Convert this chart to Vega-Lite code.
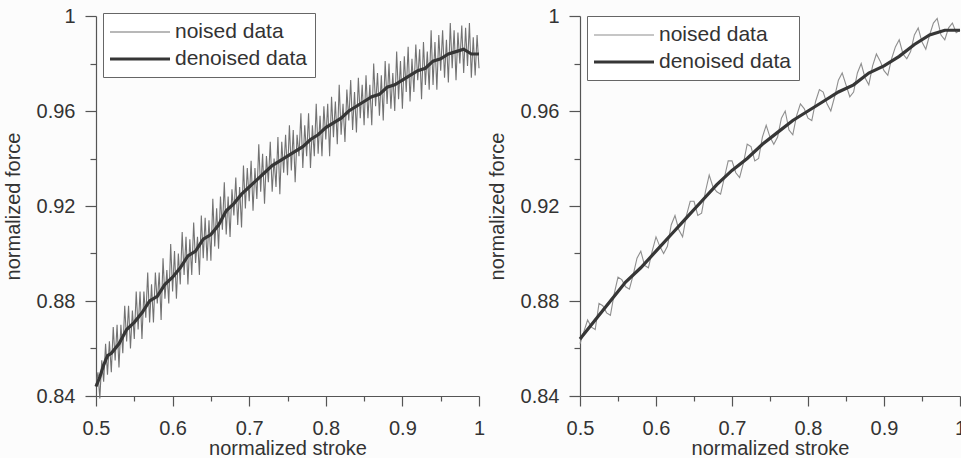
{
  "$schema": "https://vega.github.io/schema/vega-lite/v6.json",
  "padding": {"left": 3, "top": 6, "right": 0, "bottom": 0},
  "background": "#fcfcfc",
  "bounds": "flush",
  "spacing": 101,
  "datasets": {
    "L": [
      {"s":"noised data","x":0.5,"y":0.844},{"s":"noised data","x":0.5025,"y":0.850},{"s":"noised data","x":0.505,"y":0.839},{"s":"noised data","x":0.5075,"y":0.855},{"s":"noised data","x":0.51,"y":0.846},{"s":"noised data","x":0.5125,"y":0.862},{"s":"noised data","x":0.515,"y":0.849},{"s":"noised data","x":0.5175,"y":0.863},{"s":"noised data","x":0.52,"y":0.850},
      {"s":"noised data","x":0.5225,"y":0.869},{"s":"noised data","x":0.525,"y":0.855},{"s":"noised data","x":0.5275,"y":0.870},{"s":"noised data","x":0.53,"y":0.852},{"s":"noised data","x":0.5325,"y":0.870},{"s":"noised data","x":0.535,"y":0.858},{"s":"noised data","x":0.5375,"y":0.878},{"s":"noised data","x":0.54,"y":0.863},{"s":"noised data","x":0.5425,"y":0.878},{"s":"noised data","x":0.545,"y":0.860},{"s":"noised data","x":0.5475,"y":0.876},{"s":"noised data","x":0.55,"y":0.864},
      {"s":"noised data","x":0.5525,"y":0.884},{"s":"noised data","x":0.555,"y":0.868},{"s":"noised data","x":0.5575,"y":0.884},{"s":"noised data","x":0.56,"y":0.864},{"s":"noised data","x":0.5625,"y":0.884},{"s":"noised data","x":0.565,"y":0.873},{"s":"noised data","x":0.5675,"y":0.892},{"s":"noised data","x":0.57,"y":0.871},{"s":"noised data","x":0.5725,"y":0.887},{"s":"noised data","x":0.575,"y":0.871},{"s":"noised data","x":0.5775,"y":0.892},{"s":"noised data","x":0.58,"y":0.879},{"s":"noised data","x":0.5825,"y":0.892},{"s":"noised data","x":0.585,"y":0.872},{"s":"noised data","x":0.5875,"y":0.898},{"s":"noised data","x":0.59,"y":0.881},{"s":"noised data","x":0.5925,"y":0.893},{"s":"noised data","x":0.595,"y":0.879},{"s":"noised data","x":0.5975,"y":0.904},{"s":"noised data","x":0.6,"y":0.884},
      {"s":"noised data","x":0.6025,"y":0.901},{"s":"noised data","x":0.605,"y":0.881},{"s":"noised data","x":0.6075,"y":0.900},{"s":"noised data","x":0.61,"y":0.887},{"s":"noised data","x":0.6125,"y":0.909},{"s":"noised data","x":0.615,"y":0.891},{"s":"noised data","x":0.6175,"y":0.907},{"s":"noised data","x":0.62,"y":0.887},{"s":"noised data","x":0.6225,"y":0.906},{"s":"noised data","x":0.625,"y":0.891},{"s":"noised data","x":0.6275,"y":0.913},{"s":"noised data","x":0.63,"y":0.896},{"s":"noised data","x":0.6325,"y":0.907},{"s":"noised data","x":0.635,"y":0.891},{"s":"noised data","x":0.6375,"y":0.916},{"s":"noised data","x":0.64,"y":0.898},{"s":"noised data","x":0.6425,"y":0.915},{"s":"noised data","x":0.645,"y":0.897},{"s":"noised data","x":0.6475,"y":0.914},{"s":"noised data","x":0.65,"y":0.897},
      {"s":"noised data","x":0.6525,"y":0.923},{"s":"noised data","x":0.655,"y":0.903},{"s":"noised data","x":0.6575,"y":0.919},{"s":"noised data","x":0.66,"y":0.902},{"s":"noised data","x":0.6625,"y":0.924},{"s":"noised data","x":0.665,"y":0.910},{"s":"noised data","x":0.6675,"y":0.930},{"s":"noised data","x":0.67,"y":0.908},{"s":"noised data","x":0.6725,"y":0.924},{"s":"noised data","x":0.675,"y":0.907},{"s":"noised data","x":0.6775,"y":0.927},{"s":"noised data","x":0.68,"y":0.916},{"s":"noised data","x":0.6825,"y":0.932},{"s":"noised data","x":0.685,"y":0.912},{"s":"noised data","x":0.6875,"y":0.928},{"s":"noised data","x":0.69,"y":0.911},{"s":"noised data","x":0.6925,"y":0.937},{"s":"noised data","x":0.695,"y":0.919},{"s":"noised data","x":0.6975,"y":0.936},{"s":"noised data","x":0.7,"y":0.922},
      {"s":"noised data","x":0.7025,"y":0.939},{"s":"noised data","x":0.705,"y":0.918},{"s":"noised data","x":0.7075,"y":0.936},{"s":"noised data","x":0.71,"y":0.923},{"s":"noised data","x":0.7125,"y":0.946},{"s":"noised data","x":0.715,"y":0.926},{"s":"noised data","x":0.7175,"y":0.942},{"s":"noised data","x":0.72,"y":0.921},{"s":"noised data","x":0.7225,"y":0.941},{"s":"noised data","x":0.725,"y":0.930},{"s":"noised data","x":0.7275,"y":0.947},{"s":"noised data","x":0.73,"y":0.926},{"s":"noised data","x":0.7325,"y":0.940},{"s":"noised data","x":0.735,"y":0.928},{"s":"noised data","x":0.7375,"y":0.949},{"s":"noised data","x":0.74,"y":0.925},{"s":"noised data","x":0.7425,"y":0.947},{"s":"noised data","x":0.745,"y":0.934},{"s":"noised data","x":0.7475,"y":0.950},{"s":"noised data","x":0.75,"y":0.933},
      {"s":"noised data","x":0.7525,"y":0.954},{"s":"noised data","x":0.755,"y":0.935},{"s":"noised data","x":0.7575,"y":0.952},{"s":"noised data","x":0.76,"y":0.930},{"s":"noised data","x":0.7625,"y":0.950},{"s":"noised data","x":0.765,"y":0.941},{"s":"noised data","x":0.7675,"y":0.959},{"s":"noised data","x":0.77,"y":0.936},{"s":"noised data","x":0.7725,"y":0.954},{"s":"noised data","x":0.775,"y":0.941},{"s":"noised data","x":0.7775,"y":0.959},{"s":"noised data","x":0.78,"y":0.936},{"s":"noised data","x":0.7825,"y":0.954},{"s":"noised data","x":0.785,"y":0.941},{"s":"noised data","x":0.7875,"y":0.963},{"s":"noised data","x":0.79,"y":0.942},{"s":"noised data","x":0.7925,"y":0.958},{"s":"noised data","x":0.795,"y":0.941},{"s":"noised data","x":0.7975,"y":0.962},{"s":"noised data","x":0.8,"y":0.948},
      {"s":"noised data","x":0.8025,"y":0.963},{"s":"noised data","x":0.805,"y":0.941},{"s":"noised data","x":0.8075,"y":0.966},{"s":"noised data","x":0.81,"y":0.949},{"s":"noised data","x":0.8125,"y":0.964},{"s":"noised data","x":0.815,"y":0.946},{"s":"noised data","x":0.8175,"y":0.971},{"s":"noised data","x":0.82,"y":0.950},{"s":"noised data","x":0.8225,"y":0.963},{"s":"noised data","x":0.825,"y":0.947},{"s":"noised data","x":0.8275,"y":0.969},{"s":"noised data","x":0.83,"y":0.956},{"s":"noised data","x":0.8325,"y":0.973},{"s":"noised data","x":0.835,"y":0.952},{"s":"noised data","x":0.8375,"y":0.968},{"s":"noised data","x":0.84,"y":0.951},{"s":"noised data","x":0.8425,"y":0.974},{"s":"noised data","x":0.845,"y":0.957},{"s":"noised data","x":0.8475,"y":0.971},{"s":"noised data","x":0.85,"y":0.954},
      {"s":"noised data","x":0.8525,"y":0.975},{"s":"noised data","x":0.855,"y":0.957},{"s":"noised data","x":0.8575,"y":0.971},{"s":"noised data","x":0.86,"y":0.954},{"s":"noised data","x":0.8625,"y":0.980},{"s":"noised data","x":0.865,"y":0.962},{"s":"noised data","x":0.8675,"y":0.976},{"s":"noised data","x":0.87,"y":0.958},{"s":"noised data","x":0.8725,"y":0.975},{"s":"noised data","x":0.875,"y":0.956},{"s":"noised data","x":0.8775,"y":0.981},{"s":"noised data","x":0.88,"y":0.963},{"s":"noised data","x":0.8825,"y":0.980},{"s":"noised data","x":0.885,"y":0.961},{"s":"noised data","x":0.8875,"y":0.976},{"s":"noised data","x":0.89,"y":0.960},{"s":"noised data","x":0.8925,"y":0.985},{"s":"noised data","x":0.895,"y":0.965},{"s":"noised data","x":0.8975,"y":0.981},{"s":"noised data","x":0.9,"y":0.961},
      {"s":"noised data","x":0.9025,"y":0.983},{"s":"noised data","x":0.905,"y":0.968},{"s":"noised data","x":0.9075,"y":0.987},{"s":"noised data","x":0.91,"y":0.964},{"s":"noised data","x":0.9125,"y":0.982},{"s":"noised data","x":0.915,"y":0.968},{"s":"noised data","x":0.9175,"y":0.988},{"s":"noised data","x":0.92,"y":0.973},{"s":"noised data","x":0.9225,"y":0.986},{"s":"noised data","x":0.925,"y":0.965},{"s":"noised data","x":0.9275,"y":0.989},{"s":"noised data","x":0.93,"y":0.971},{"s":"noised data","x":0.9325,"y":0.985},{"s":"noised data","x":0.935,"y":0.969},{"s":"noised data","x":0.9375,"y":0.994},{"s":"noised data","x":0.94,"y":0.971},{"s":"noised data","x":0.9425,"y":0.989},{"s":"noised data","x":0.945,"y":0.969},{"s":"noised data","x":0.9475,"y":0.992},{"s":"noised data","x":0.95,"y":0.977},
      {"s":"noised data","x":0.9525,"y":0.994},{"s":"noised data","x":0.955,"y":0.974},{"s":"noised data","x":0.9575,"y":0.990},{"s":"noised data","x":0.96,"y":0.972},{"s":"noised data","x":0.9625,"y":0.997},{"s":"noised data","x":0.965,"y":0.978},{"s":"noised data","x":0.9675,"y":0.994},{"s":"noised data","x":0.97,"y":0.973},{"s":"noised data","x":0.9725,"y":0.993},{"s":"noised data","x":0.975,"y":0.980},{"s":"noised data","x":0.9775,"y":0.996},{"s":"noised data","x":0.98,"y":0.976},{"s":"noised data","x":0.9825,"y":0.995},{"s":"noised data","x":0.985,"y":0.979},{"s":"noised data","x":0.9875,"y":0.997},{"s":"noised data","x":0.99,"y":0.974},{"s":"noised data","x":0.9925,"y":0.991},{"s":"noised data","x":0.995,"y":0.975},{"s":"noised data","x":0.9975,"y":0.992},{"s":"noised data","x":1.0,"y":0.978},
      {"s":"denoised data","x":0.5,"y":0.844},{"s":"denoised data","x":0.505,"y":0.848},{"s":"denoised data","x":0.51,"y":0.853},{"s":"denoised data","x":0.515,"y":0.857},{"s":"denoised data","x":0.52,"y":0.858},{"s":"denoised data","x":0.53,"y":0.862},{"s":"denoised data","x":0.54,"y":0.868},{"s":"denoised data","x":0.55,"y":0.871},{"s":"denoised data","x":0.56,"y":0.875},{"s":"denoised data","x":0.57,"y":0.880},{"s":"denoised data","x":0.58,"y":0.882},{"s":"denoised data","x":0.59,"y":0.887},{"s":"denoised data","x":0.6,"y":0.890},{"s":"denoised data","x":0.61,"y":0.894},{"s":"denoised data","x":0.62,"y":0.899},{"s":"denoised data","x":0.63,"y":0.901},{"s":"denoised data","x":0.64,"y":0.906},{"s":"denoised data","x":0.65,"y":0.908},{"s":"denoised data","x":0.66,"y":0.912},{"s":"denoised data","x":0.67,"y":0.918},{"s":"denoised data","x":0.68,"y":0.921},{"s":"denoised data","x":0.69,"y":0.925},{"s":"denoised data","x":0.7,"y":0.928},{"s":"denoised data","x":0.71,"y":0.931},{"s":"denoised data","x":0.72,"y":0.934},{"s":"denoised data","x":0.73,"y":0.937},{"s":"denoised data","x":0.74,"y":0.939},{"s":"denoised data","x":0.75,"y":0.941},{"s":"denoised data","x":0.76,"y":0.943},{"s":"denoised data","x":0.77,"y":0.945},{"s":"denoised data","x":0.78,"y":0.948},{"s":"denoised data","x":0.79,"y":0.950},{"s":"denoised data","x":0.8,"y":0.953},{"s":"denoised data","x":0.81,"y":0.955},{"s":"denoised data","x":0.82,"y":0.957},{"s":"denoised data","x":0.83,"y":0.960},{"s":"denoised data","x":0.84,"y":0.962},{"s":"denoised data","x":0.85,"y":0.964},{"s":"denoised data","x":0.86,"y":0.966},{"s":"denoised data","x":0.87,"y":0.967},{"s":"denoised data","x":0.88,"y":0.970},{"s":"denoised data","x":0.89,"y":0.971},{"s":"denoised data","x":0.9,"y":0.973},{"s":"denoised data","x":0.91,"y":0.975},{"s":"denoised data","x":0.92,"y":0.977},{"s":"denoised data","x":0.93,"y":0.978},{"s":"denoised data","x":0.94,"y":0.981},{"s":"denoised data","x":0.95,"y":0.982},{"s":"denoised data","x":0.96,"y":0.984},{"s":"denoised data","x":0.97,"y":0.985},{"s":"denoised data","x":0.98,"y":0.986},{"s":"denoised data","x":0.99,"y":0.984},{"s":"denoised data","x":1.0,"y":0.984}
    ],
    "R": [
      {"s":"noised data","x":0.5,"y":0.862},{"s":"noised data","x":0.505,"y":0.867},{"s":"noised data","x":0.51,"y":0.872},{"s":"noised data","x":0.515,"y":0.869},{"s":"noised data","x":0.52,"y":0.868},{"s":"noised data","x":0.525,"y":0.879},{"s":"noised data","x":0.53,"y":0.878},{"s":"noised data","x":0.535,"y":0.875},{"s":"noised data","x":0.54,"y":0.874},{"s":"noised data","x":0.545,"y":0.883},{"s":"noised data","x":0.55,"y":0.890},{"s":"noised data","x":0.555,"y":0.889},{"s":"noised data","x":0.56,"y":0.886},{"s":"noised data","x":0.565,"y":0.885},{"s":"noised data","x":0.57,"y":0.891},{"s":"noised data","x":0.575,"y":0.898},{"s":"noised data","x":0.58,"y":0.901},{"s":"noised data","x":0.585,"y":0.895},{"s":"noised data","x":0.59,"y":0.894},{"s":"noised data","x":0.595,"y":0.901},
      {"s":"noised data","x":0.6,"y":0.907},{"s":"noised data","x":0.605,"y":0.903},{"s":"noised data","x":0.61,"y":0.900},{"s":"noised data","x":0.615,"y":0.903},{"s":"noised data","x":0.62,"y":0.912},{"s":"noised data","x":0.625,"y":0.916},{"s":"noised data","x":0.63,"y":0.910},{"s":"noised data","x":0.635,"y":0.907},{"s":"noised data","x":0.64,"y":0.916},{"s":"noised data","x":0.645,"y":0.922},{"s":"noised data","x":0.65,"y":0.922},{"s":"noised data","x":0.655,"y":0.916},{"s":"noised data","x":0.66,"y":0.917},{"s":"noised data","x":0.665,"y":0.926},{"s":"noised data","x":0.67,"y":0.933},{"s":"noised data","x":0.675,"y":0.928},{"s":"noised data","x":0.68,"y":0.926},{"s":"noised data","x":0.685,"y":0.925},{"s":"noised data","x":0.69,"y":0.932},{"s":"noised data","x":0.695,"y":0.939},
      {"s":"noised data","x":0.7,"y":0.939},{"s":"noised data","x":0.705,"y":0.934},{"s":"noised data","x":0.71,"y":0.932},{"s":"noised data","x":0.715,"y":0.938},{"s":"noised data","x":0.72,"y":0.946},{"s":"noised data","x":0.725,"y":0.945},{"s":"noised data","x":0.73,"y":0.939},{"s":"noised data","x":0.735,"y":0.940},{"s":"noised data","x":0.74,"y":0.949},{"s":"noised data","x":0.745,"y":0.954},{"s":"noised data","x":0.75,"y":0.949},{"s":"noised data","x":0.755,"y":0.946},{"s":"noised data","x":0.76,"y":0.949},{"s":"noised data","x":0.765,"y":0.957},{"s":"noised data","x":0.77,"y":0.960},{"s":"noised data","x":0.775,"y":0.952},{"s":"noised data","x":0.78,"y":0.950},{"s":"noised data","x":0.785,"y":0.958},{"s":"noised data","x":0.79,"y":0.963},{"s":"noised data","x":0.795,"y":0.961},
      {"s":"noised data","x":0.8,"y":0.957},{"s":"noised data","x":0.805,"y":0.956},{"s":"noised data","x":0.81,"y":0.964},{"s":"noised data","x":0.815,"y":0.969},{"s":"noised data","x":0.82,"y":0.968},{"s":"noised data","x":0.825,"y":0.963},{"s":"noised data","x":0.83,"y":0.960},{"s":"noised data","x":0.835,"y":0.966},{"s":"noised data","x":0.84,"y":0.973},{"s":"noised data","x":0.845,"y":0.976},{"s":"noised data","x":0.85,"y":0.971},{"s":"noised data","x":0.855,"y":0.966},{"s":"noised data","x":0.86,"y":0.968},{"s":"noised data","x":0.865,"y":0.976},{"s":"noised data","x":0.87,"y":0.980},{"s":"noised data","x":0.875,"y":0.974},{"s":"noised data","x":0.88,"y":0.971},{"s":"noised data","x":0.885,"y":0.979},{"s":"noised data","x":0.89,"y":0.984},{"s":"noised data","x":0.895,"y":0.981},
      {"s":"noised data","x":0.9,"y":0.977},{"s":"noised data","x":0.905,"y":0.975},{"s":"noised data","x":0.91,"y":0.982},{"s":"noised data","x":0.915,"y":0.987},{"s":"noised data","x":0.92,"y":0.990},{"s":"noised data","x":0.925,"y":0.984},{"s":"noised data","x":0.93,"y":0.982},{"s":"noised data","x":0.935,"y":0.985},{"s":"noised data","x":0.94,"y":0.992},{"s":"noised data","x":0.945,"y":0.995},{"s":"noised data","x":0.95,"y":0.989},{"s":"noised data","x":0.955,"y":0.986},{"s":"noised data","x":0.96,"y":0.992},{"s":"noised data","x":0.965,"y":0.997},{"s":"noised data","x":0.97,"y":0.999},{"s":"noised data","x":0.975,"y":0.992},{"s":"noised data","x":0.98,"y":0.990},{"s":"noised data","x":0.985,"y":0.995},{"s":"noised data","x":0.99,"y":0.997},{"s":"noised data","x":0.995,"y":0.993},{"s":"noised data","x":1.0,"y":0.994},
      {"s":"denoised data","x":0.5,"y":0.864},{"s":"denoised data","x":0.52,"y":0.872},{"s":"denoised data","x":0.54,"y":0.880},{"s":"denoised data","x":0.56,"y":0.888},{"s":"denoised data","x":0.58,"y":0.894},{"s":"denoised data","x":0.6,"y":0.901},{"s":"denoised data","x":0.62,"y":0.908},{"s":"denoised data","x":0.64,"y":0.915},{"s":"denoised data","x":0.66,"y":0.922},{"s":"denoised data","x":0.68,"y":0.929},{"s":"denoised data","x":0.7,"y":0.935},{"s":"denoised data","x":0.72,"y":0.940},{"s":"denoised data","x":0.74,"y":0.946},{"s":"denoised data","x":0.76,"y":0.951},{"s":"denoised data","x":0.78,"y":0.956},{"s":"denoised data","x":0.8,"y":0.960},{"s":"denoised data","x":0.82,"y":0.964},{"s":"denoised data","x":0.84,"y":0.968},{"s":"denoised data","x":0.86,"y":0.971},{"s":"denoised data","x":0.88,"y":0.976},{"s":"denoised data","x":0.9,"y":0.979},{"s":"denoised data","x":0.92,"y":0.983},{"s":"denoised data","x":0.94,"y":0.988},{"s":"denoised data","x":0.96,"y":0.992},{"s":"denoised data","x":0.98,"y":0.994},{"s":"denoised data","x":1.0,"y":0.994}
    ]
  },
  "hconcat": [
    {
      "width": 383, "height": 380,
      "data": {"name": "L"},
      "mark": {"type": "line", "interpolate": "linear"},
      "encoding": {
        "x": {"field": "x", "type": "quantitative", "title": "normalized stroke", "scale": {"domain": [0.5, 1], "nice": false, "zero": false},
          "axis": {"values": [0.5,0.55,0.6,0.65,0.7,0.75,0.8,0.85,0.9,0.95,1.0],
            "labelExpr": "round(datum.value*20)%2==0 ? format(datum.value,'~g') : ''",
            "tickSize": {"condition": {"test": "round(datum.value*20)%2==1", "value": 5}, "value": 10}}},
        "y": {"field": "y", "type": "quantitative", "title": "normalized force", "scale": {"domain": [0.84, 1], "nice": false, "zero": false},
          "axis": {"values": [0.84,0.86,0.88,0.9,0.92,0.94,0.96,0.98,1.0],
            "labelExpr": "round(datum.value*50)%2==0 ? format(datum.value,'~g') : ''",
            "tickSize": {"condition": {"test": "round(datum.value*50)%2==1", "value": 6}, "value": 11}}},
        "color": {"field": "s", "type": "nominal", "sort": ["noised data", "denoised data"],
          "scale": {"domain": ["noised data", "denoised data"], "range": ["#727272", "#363636"]},
          "legend": {"orient": "none", "legendX": 7, "legendY": -3, "title": null}},
        "strokeWidth": {"field": "s", "type": "nominal", "sort": ["noised data", "denoised data"],
          "scale": {"domain": ["noised data", "denoised data"], "range": [1.1, 3.2]},
          "legend": {"orient": "none", "legendX": 7, "legendY": -3, "title": null}}
      }
    },
    {
      "width": 380, "height": 380,
      "data": {"name": "R"},
      "mark": {"type": "line", "interpolate": "linear"},
      "encoding": {
        "x": {"field": "x", "type": "quantitative", "title": "normalized stroke", "scale": {"domain": [0.5, 1], "nice": false, "zero": false},
          "axis": {"values": [0.5,0.55,0.6,0.65,0.7,0.75,0.8,0.85,0.9,0.95,1.0],
            "labelExpr": "round(datum.value*20)%2==0 ? format(datum.value,'~g') : ''",
            "tickSize": {"condition": {"test": "round(datum.value*20)%2==1", "value": 5}, "value": 10}}},
        "y": {"field": "y", "type": "quantitative", "title": "normalized force", "scale": {"domain": [0.84, 1], "nice": false, "zero": false},
          "axis": {"values": [0.84,0.86,0.88,0.9,0.92,0.94,0.96,0.98,1.0],
            "labelExpr": "round(datum.value*50)%2==0 ? format(datum.value,'~g') : ''",
            "tickSize": {"condition": {"test": "round(datum.value*50)%2==1", "value": 6}, "value": 11}}},
        "color": {"field": "s", "type": "nominal", "sort": ["noised data", "denoised data"],
          "scale": {"domain": ["noised data", "denoised data"], "range": ["#8e8e8e", "#363636"]},
          "legend": {"orient": "none", "legendX": 7, "legendY": 0, "title": null}},
        "strokeWidth": {"field": "s", "type": "nominal", "sort": ["noised data", "denoised data"],
          "scale": {"domain": ["noised data", "denoised data"], "range": [1.1, 3.2]},
          "legend": {"orient": "none", "legendX": 7, "legendY": 0, "title": null}}
      }
    }
  ],
  "resolve": {
    "scale": {"color": "independent", "strokeWidth": "independent", "x": "independent", "y": "independent"},
    "legend": {"color": "independent", "strokeWidth": "independent"}
  },
  "config": {
    "view": {"stroke": null},
    "font": "Liberation Sans",
    "axis": {
      "grid": false,
      "domainColor": "#555555",
      "domainWidth": 1.2,
      "tickColor": "#555555",
      "tickWidth": 1.2,
      "labelFont": "Liberation Sans",
      "labelFontSize": 20,
      "labelColor": "#333333",
      "labelOverlap": false,
      "labelFlush": false,
      "labelBound": false,
      "titleFont": "Liberation Sans",
      "titleFontSize": 20,
      "titleFontWeight": "normal",
      "titleColor": "#333333"
    },
    "axisX": {"labelPadding": 12, "titlePadding": 0},
    "axisY": {"labelPadding": 10, "titlePadding": 13},
    "legend": {
      "strokeColor": "#666666",
      "fillColor": "#ffffff",
      "padding": 8,
      "rowPadding": 5,
      "symbolType": "M-3,0H3",
      "symbolSize": 400,
      "symbolOffset": 17,
      "labelFont": "Liberation Sans",
      "labelFontSize": 21,
      "labelColor": "#333333",
      "labelOffset": 23,
      "labelLimit": 300
    }
  }
}
